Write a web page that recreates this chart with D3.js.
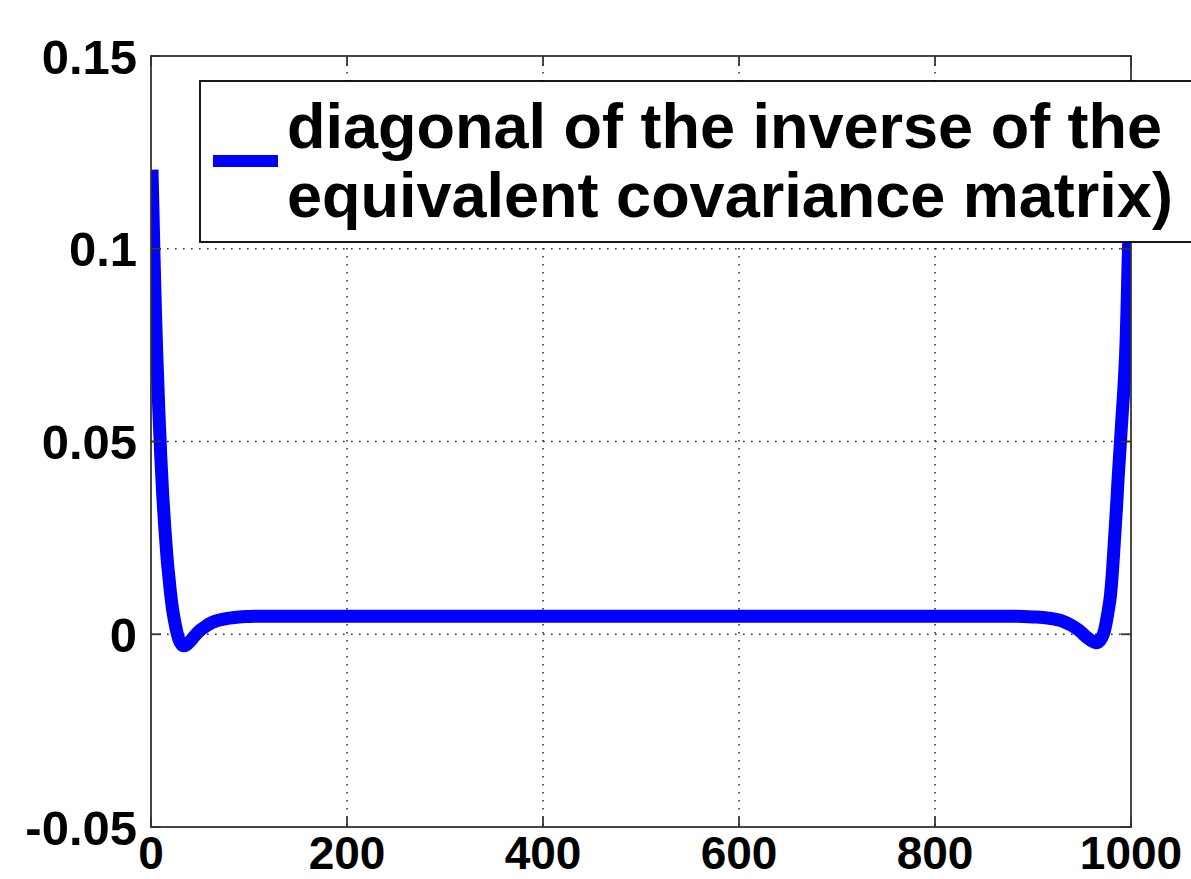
<!DOCTYPE html>
<html>
<head>
<meta charset="utf-8">
<script src="https://cdn.jsdelivr.net/npm/d3@7"></script>
<style>
  html, body { margin: 0; padding: 0; background: #fff; overflow: hidden; }
  svg { display: block; }
  text { font-family: "Liberation Sans", Arial, Helvetica, sans-serif; font-weight: bold; fill: #000; }
</style>
</head>
<body>
<svg id="chart" width="1191" height="879"></svg>
<script>
// ---- data ----
const xIndex = [1,2,3,4,5,6,7,8,9,10,11,12,13,14,15,16,17,18,19,20,22,24,26,28,30,33,36,40,45,50,56,62,70,80,90,100,120,150,300,500,700,850,880,900,915,930,940,948,955,960,964,967,970,973,975,977,979,981,983,985,987,989,991,993,995,996,997,998,999,1000];
const diagValues = [0.1205,0.110,0.099,0.089,0.080,0.072,0.065,0.058,0.052,0.046,0.041,0.036,0.032,0.028,0.0245,0.021,0.018,0.0155,0.013,0.0105,0.0065,0.0035,0.001,-0.0010,-0.0022,-0.0030,-0.0028,-0.0018,-0.0003,0.0010,0.0021,0.0030,0.0037,0.0042,0.0045,0.0046,0.0047,0.0047,0.0047,0.0047,0.0047,0.0047,0.0047,0.0045,0.0042,0.0034,0.0022,0.0008,-0.0008,-0.0017,-0.0022,-0.0020,-0.0010,0.0010,0.0035,0.0065,0.010,0.016,0.024,0.032,0.041,0.049,0.057,0.065,0.076,0.085,0.096,0.105,0.113,0.1205];
const xTicks = [0,200,400,600,800,1000];
const yTicks = [-0.05,0,0.05,0.1,0.15];
const yTickLabels = ["-0.05","0","0.05","0.1","0.15"];
const legendLines = ["diagonal of the inverse of the", "equivalent covariance matrix)"];

const W = 1191, H = 879;
const plot = {left: 151, right: 1131, top: 56, bottom: 827};

const svg = d3.select("#chart");
const x = d3.scaleLinear().domain([0, 1000]).range([plot.left, plot.right]);
const y = d3.scaleLinear().domain([-0.05, 0.15]).range([plot.bottom, plot.top]);

// grid lines
const grid = svg.append("g");
grid.selectAll(".gx").data(xTicks.slice(1, -1)).enter().append("line")
  .attr("x1", d => x(d)).attr("x2", d => x(d))
  .attr("y1", plot.top).attr("y2", plot.bottom)
  .attr("stroke", "#333").attr("stroke-width", 1.6).attr("stroke-dasharray", "1.6 6.4");
grid.selectAll(".gy").data(yTicks.slice(1, -1)).enter().append("line")
  .attr("y1", d => y(d)).attr("y2", d => y(d))
  .attr("x1", plot.left).attr("x2", plot.right)
  .attr("stroke", "#333").attr("stroke-width", 1.6).attr("stroke-dasharray", "1.6 6.4");

// clip
svg.append("clipPath").attr("id", "clip").append("rect")
  .attr("x", plot.left).attr("y", plot.top)
  .attr("width", plot.right - plot.left).attr("height", plot.bottom - plot.top);

const pts = xIndex.map((d, i) => [d, diagValues[i]]);
const line = d3.line().x(d => x(d[0])).y(d => y(d[1])).curve(d3.curveMonotoneX);
svg.append("path").attr("d", line(pts))
  .attr("clip-path", "url(#clip)")
  .attr("fill", "none").attr("stroke", "#0000ff").attr("stroke-width", 13)
  .attr("stroke-linejoin", "round").attr("stroke-linecap", "butt");

// axes (box with inward ticks)
const axisColor = "#333";
const tickLen = 10;
const axes = svg.append("g");
axes.append("rect").attr("x", plot.left).attr("y", plot.top)
  .attr("width", plot.right - plot.left).attr("height", plot.bottom - plot.top)
  .attr("fill", "none").attr("stroke", axisColor).attr("stroke-width", 1.8);

xTicks.forEach(t => {
  axes.append("line").attr("x1", x(t)).attr("x2", x(t)).attr("y1", plot.bottom).attr("y2", plot.bottom - tickLen)
    .attr("stroke", axisColor).attr("stroke-width", 1.8);
  axes.append("line").attr("x1", x(t)).attr("x2", x(t)).attr("y1", plot.top).attr("y2", plot.top + tickLen)
    .attr("stroke", axisColor).attr("stroke-width", 1.8);
});
yTicks.forEach(t => {
  axes.append("line").attr("y1", y(t)).attr("y2", y(t)).attr("x1", plot.left).attr("x2", plot.left + tickLen)
    .attr("stroke", axisColor).attr("stroke-width", 1.8);
  axes.append("line").attr("y1", y(t)).attr("y2", y(t)).attr("x1", plot.right).attr("x2", plot.right - tickLen)
    .attr("stroke", axisColor).attr("stroke-width", 1.8);
});

// tick labels
svg.selectAll(".xl").data(xTicks).enter().append("text")
  .attr("x", d => x(d)).attr("y", plot.bottom + 42)
  .attr("text-anchor", "middle").attr("font-size", 46).text(d => d);
svg.selectAll(".yl").data(yTicks).enter().append("text")
  .attr("x", plot.left - 14).attr("y", d => y(d)).attr("dy", "0.36em")
  .attr("text-anchor", "end").attr("font-size", 49).text((d, i) => yTickLabels[i]);

// legend
const lg = svg.append("g");
lg.append("rect").attr("x", 200).attr("y", 81).attr("width", 1100).attr("height", 161)
  .attr("fill", "#fff").attr("stroke", "#000").attr("stroke-width", 1.8);
lg.append("line").attr("x1", 213).attr("x2", 278).attr("y1", 161).attr("y2", 161)
  .attr("stroke", "#0000ff").attr("stroke-width", 12);
lg.selectAll(".lt").data(legendLines).enter().append("text")
  .attr("x", 287).attr("y", (d, i) => 148 + i * 69)
  .attr("font-size", 63).text(d => d);
</script>
</body>
</html>
